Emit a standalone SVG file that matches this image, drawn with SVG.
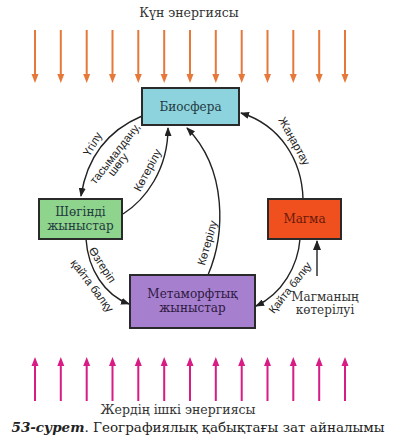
<svg xmlns="http://www.w3.org/2000/svg" width="403" height="445" viewBox="0 0 403 445">
<defs>
<marker id="ah" markerUnits="userSpaceOnUse" markerWidth="9" markerHeight="7" refX="8" refY="3.5" orient="auto"><path d="M0,0 L9,3.5 L0,7 Z" fill="#222"/></marker>
<marker id="ahBig" markerUnits="userSpaceOnUse" markerWidth="10" markerHeight="8" refX="9" refY="4" orient="auto"><path d="M0,0 L10,4 L0,8 Z" fill="#222"/></marker>
</defs>
<style>
.box{stroke:#2a2a2a;stroke-width:2}
.bl{font-family:'DejaVu Serif','Liberation Serif',serif;font-size:12px;fill:#1f3a40;text-anchor:middle}
.al{font-family:'Liberation Sans',Arial,sans-serif;font-size:11.5px;fill:#222;text-anchor:middle}
.con{fill:none;stroke:#222;stroke-width:1.4}
.sun{stroke:#e6783a;stroke-width:2}
.sunh{fill:#e6783a}
.geo{stroke:#d81b85;stroke-width:2}
.geoh{fill:#d81b85}
.ttl{font-family:'DejaVu Serif','Liberation Serif',serif;font-size:12.5px;fill:#333;text-anchor:middle}
.cap{font-family:'DejaVu Serif','Liberation Serif',serif;font-size:13.5px;fill:#222;text-anchor:middle}
</style>
<rect width="403" height="445" fill="#fff"/>
<g id="sun-energy">
<text class="ttl" x="189" y="17">Күн энергиясы</text>
<g id="sun-arrows">
<path class="sun" d="M35,30V76M60.8,30V76M86.7,30V76M112.5,30V76M138.3,30V76M164.2,30V76M190,30V76M215.8,30V76M241.7,30V76M267.5,30V76M293.3,30V76M319.2,30V76M345,30V76"/>
<path class="sunh" d="M31.5,74h7l-3.5,9zM57.3,74h7l-3.5,9zM83.2,74h7l-3.5,9zM109,74h7l-3.5,9zM134.8,74h7l-3.5,9zM160.7,74h7l-3.5,9zM186.5,74h7l-3.5,9zM212.3,74h7l-3.5,9zM238.2,74h7l-3.5,9zM264,74h7l-3.5,9zM289.8,74h7l-3.5,9zM315.7,74h7l-3.5,9zM341.5,74h7l-3.5,9z"/>
</g>
</g>
<g id="earth-energy">
<g id="earth-arrows">
<path class="geo" d="M35,401V364M60.8,401V364M86.7,401V364M112.5,401V364M138.3,401V364M164.2,401V364M190,401V364M215.8,401V364M241.7,401V364M267.5,401V364M293.3,401V364M319.2,401V364M345,401V364"/>
<path class="geoh" d="M31.5,366h7l-3.5,-9zM57.3,366h7l-3.5,-9zM83.2,366h7l-3.5,-9zM109,366h7l-3.5,-9zM134.8,366h7l-3.5,-9zM160.7,366h7l-3.5,-9zM186.5,366h7l-3.5,-9zM212.3,366h7l-3.5,-9zM238.2,366h7l-3.5,-9zM264,366h7l-3.5,-9zM289.8,366h7l-3.5,-9zM315.7,366h7l-3.5,-9zM341.5,366h7l-3.5,-9z"/>
</g>
<text class="ttl" x="178" y="414">Жердің ішкі энергиясы</text>
</g>
<g id="connectors">
<path class="con" d="M142,116 Q90,138 81,196" marker-end="url(#ah)"/>
<path class="con" d="M123,214 C145,200 168,170 168,128" marker-end="url(#ah)"/>
<path class="con" d="M208,275 C225,235 228,170 187,128" marker-end="url(#ah)"/>
<path class="con" d="M303,199 C302,160 280,125 241,113" marker-end="url(#ah)"/>
<path class="con" d="M86,239 C88,270 105,295 129,304" marker-end="url(#ah)"/>
<path class="con" d="M300,239 C298,266 282,294 256,306" marker-end="url(#ah)"/>
<path class="con" d="M317,276 V241" marker-end="url(#ahBig)"/>
<text class="al" transform="translate(96,146) rotate(-60)">Үгілу</text>
<text class="al" transform="translate(118,156) rotate(-52)">тасымалдану,</text>
<text class="al" transform="translate(121,167) rotate(-52)">шөгу</text>
<text class="al" transform="translate(151,172) rotate(-62)">Көтерілу</text>
<text class="al" transform="translate(211,244) rotate(-74)">Көтерілу</text>
<text class="al" transform="translate(291,143) rotate(61)">Жаңартау</text>
<text class="al" transform="translate(99,267) rotate(57)">Өзгеріп</text>
<text class="al" transform="translate(89,288) rotate(53)">қайта балқу</text>
<text class="al" transform="translate(293,290) rotate(-52)" style="font-size:11px">Қайта балқу</text>
<text class="bl" x="325" y="301" style="fill:#333">Магманың</text>
<text class="bl" x="325" y="314" style="fill:#333">көтерілуі</text>
</g>
<g id="biosphere">
<rect class="box" x="142" y="88" width="97" height="37" fill="#8dd3de"/>
<text class="bl" x="190.5" y="111">Биосфера</text>
</g>
<g id="sedimentary">
<rect class="box" x="39" y="199" width="83" height="40" fill="#8fd48c"/>
<text class="bl" x="80.5" y="216">Шөгінді</text>
<text class="bl" x="80.5" y="230">жыныстар</text>
</g>
<g id="metamorphic">
<rect class="box" x="130" y="275" width="125" height="53" fill="#a77fcf"/>
<text class="bl" x="192.5" y="298" style="fill:#2e1a40">Метаморфтық</text>
<text class="bl" x="192.5" y="312" style="fill:#2e1a40">жыныстар</text>
</g>
<g id="magma">
<rect class="box" x="268" y="199" width="73" height="40" fill="#f0501e"/>
<text class="bl" x="304.5" y="223" style="fill:#6a1a0a">Магма</text>
</g>
<text class="cap" x="198" y="432"><tspan font-style="italic" font-weight="bold">53-сурет</tspan>. Географиялық қабықтағы зат айналымы</text>
</svg>
